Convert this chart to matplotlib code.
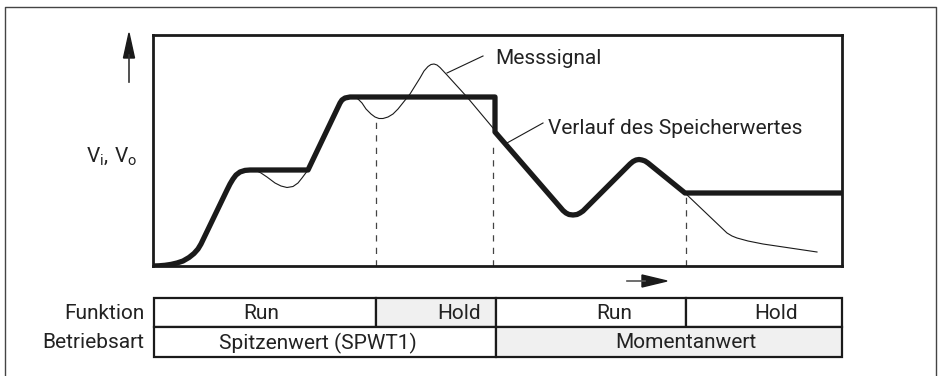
import matplotlib
matplotlib.use('Agg')
import matplotlib.pyplot as plt
from matplotlib.patches import Rectangle, Polygon

plt.rcParams['font.family'] = ['Roboto', 'DejaVu Sans']
plt.rcParams['mathtext.fontset'] = 'custom'
plt.rcParams['mathtext.rm'] = 'Roboto'
plt.rcParams['mathtext.it'] = 'Roboto'

# stored value (thick curve): time / level
hold_t = [0, 6, 12, 18, 24, 30, 36, 41, 45, 48, 74, 77, 80, 83, 87, 92, 97,
          155, 187, 189, 192, 197, 342, 342,
          407, 410, 413, 416, 420, 424, 427, 430, 433,
          477, 480, 483, 486, 489, 492, 495, 532, 689]
hold_v = [0, 0.2, 0.7, 1.6, 3, 5, 8.5, 12.5, 17, 22, 76, 82, 87, 91, 94, 95.6, 96,
          96, 163, 166, 168, 169, 169, 134,
          59, 55.5, 53, 51.5, 51, 51.5, 53, 55, 58,
          102, 104.5, 106, 106.5, 106, 105, 103, 73, 73]

# measured signal (thin curve)
sig_t = [0, 6, 12, 18, 24, 30, 36, 41, 45, 48, 74, 77, 80, 83, 87, 92, 97,
         103, 108, 114, 122, 128, 134, 140, 145, 149, 152, 155,
         187, 189, 192, 197, 201, 205, 209, 213, 218, 222, 226, 230, 235, 240,
         245, 249, 253, 257, 267, 271, 275, 278, 281, 284, 287, 294, 314, 340,
         344, 407, 410, 413, 416, 420, 424, 427, 430, 433,
         477, 480, 483, 486, 489, 492, 495, 532,
         574, 579, 584, 595, 610, 664]
sig_v = [0, 0.2, 0.7, 1.6, 3, 5, 8.5, 12.5, 17, 22, 76, 82, 87, 91, 94, 95.6, 96,
         95.5, 93, 89, 83, 80, 78.5, 79.5, 83, 88, 92, 96,
         163, 166, 168, 169, 169, 167, 163, 157, 152, 149, 147.5, 147.5, 149, 152,
         157, 162, 167, 172, 188, 195, 199.5, 201.5, 202, 201, 198.5, 191, 169, 138,
         132, 59, 55.5, 53, 51.5, 51, 51.5, 53, 55, 58,
         102, 104.5, 106, 106.5, 106, 105, 103, 73,
         33, 30, 28, 25, 22, 14]

# mode switch instants (dashed markers) and their top levels
switch_t = [223, 340, 533]
switch_top = [146, 121, 70]

# table rows
func_labels = ['Run', 'Hold', 'Run', 'Hold']
func_edges = [154, 376, 496, 686, 842]
func_shaded = [False, True, False, False]
mode_labels = ['Spitzenwert (SPWT1)', 'Momentanwert']
mode_edges = [154, 496, 842]
mode_shaded = [False, True]

W, H = 940, 376
FS = 15
fig = plt.figure(figsize=(W / 100, H / 100), dpi=100)

# background overlay in pixel coords
ax0 = fig.add_axes([0, 0, 1, 1])
ax0.set_xlim(0, W)
ax0.set_ylim(H, 0)
ax0.axis('off')

# outer frame
ax0.plot([5, 5, 936, 936], [H + 2, 7, 7, H + 2], color='#444444', lw=1.0)

# plot box
ax = fig.add_axes([153 / W, (H - 266) / H, 689 / W, 231 / H])
ax.set_xlim(0, 689)
ax.set_ylim(0, 231)
ax.set_xticks([])
ax.set_yticks([])
for s in ax.spines.values():
    s.set_linewidth(2.0)
    s.set_color('#1a1a1a')

ax.plot(sig_t, sig_v, color='#1a1a1a', lw=0.8, solid_joinstyle='round')
ax.plot(hold_t, hold_v, color='#1a1a1a', lw=3.8, solid_joinstyle='round',
        solid_capstyle='butt')
for t, top in zip(switch_t, switch_top):
    ax.plot([t, t], [0, top], color='#444444', lw=0.9, dashes=(5, 5))

# labels with leader lines
ax.plot([294, 330], [193, 210], color='#1a1a1a', lw=0.8)
ax.text(342, 208, 'Messsignal', fontsize=FS, va='center', ha='left',
        color='#222222')
ax.plot([354, 390], [123, 143], color='#1a1a1a', lw=0.8)
ax.text(395, 138, 'Verlauf des Speicherwertes', fontsize=FS, va='center',
        ha='left', color='#222222')

# y arrow + label
ax0.plot([129, 129], [82, 55], color='#333333', lw=1.2)
ax0.add_patch(Polygon([[129, 33], [123.5, 58], [134.5, 58]], closed=True,
                      color='#1a1a1a'))
ax0.text(86, 156, r'$\mathrm{V_i,\,V_o}$', fontsize=FS, ha='left',
         va='center', color='#222222')

# x arrow
ax0.plot([627, 645], [281, 281], color='#555555', lw=1.2)
ax0.add_patch(Polygon([[667, 281], [642, 275], [642, 287]], closed=True,
                      color='#1a1a1a'))

# table
r1_top, r1_bot, r2_bot = 298, 327, 357
for i, lab in enumerate(func_labels):
    x0, x1 = func_edges[i], func_edges[i + 1]
    ax0.add_patch(Rectangle((x0, r1_top), x1 - x0, r1_bot - r1_top,
                            facecolor='#f0f0f0' if func_shaded[i] else 'white',
                            edgecolor='#1a1a1a', lw=1.6))
func_text_x = [261, 481, 614, 776]
func_ha = ['center', 'right', 'center', 'center']
for lab, x, ha in zip(func_labels, func_text_x, func_ha):
    ax0.text(x, (r1_top + r1_bot) / 2 + 1, lab, fontsize=FS, ha=ha,
             va='center', color='#222222')
for i, lab in enumerate(mode_labels):
    x0, x1 = mode_edges[i], mode_edges[i + 1]
    ax0.add_patch(Rectangle((x0, r1_bot), x1 - x0, r2_bot - r1_bot,
                            facecolor='#f0f0f0' if mode_shaded[i] else 'white',
                            edgecolor='#1a1a1a', lw=1.6))
mode_text_x = [318, 686]
for lab, x in zip(mode_labels, mode_text_x):
    ax0.text(x, (r1_bot + r2_bot) / 2 + 1, lab, fontsize=FS, ha='center',
             va='center', color='#222222')

ax0.text(144, (r1_top + r1_bot) / 2 + 1, 'Funktion', fontsize=FS,
         ha='right', va='center', color='#222222')
ax0.text(144, (r1_bot + r2_bot) / 2 + 1, 'Betriebsart', fontsize=FS,
         ha='right', va='center', color='#222222')

fig.savefig('out.png', dpi=100)
